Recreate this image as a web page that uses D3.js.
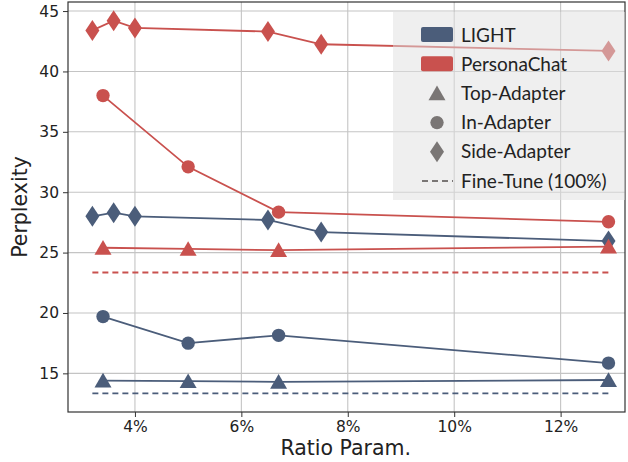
<!DOCTYPE html>
<html>
<head>
<meta charset="utf-8">
<script src="https://cdn.jsdelivr.net/npm/d3@7"></script>
<style>
  body { margin: 0; background: #fff; }
  svg { display: block; }
</style>
</head>
<body>
<svg id="chart"></svg>
<script>
// values
const lightTopX = [3.4, 5.0, 6.7, 12.9];
const lightTop = [14.4, 14.35, 14.3, 14.45];
const lightInX = [3.4, 5.0, 6.7, 12.9];
const lightIn = [19.7, 17.5, 18.15, 15.85];
const lightSideX = [3.2, 3.6, 4.0, 6.5, 7.5, 12.9];
const lightSide = [28.0, 28.3, 28.0, 27.7, 26.7, 25.95];
const lightFine = 13.35;

const personaTopX = [3.4, 5.0, 6.7, 12.9];
const personaTop = [25.4, 25.3, 25.2, 25.5];
const personaInX = [3.4, 5.0, 6.7, 12.9];
const personaIn = [38.0, 32.1, 28.35, 27.55];
const personaSideX = [3.2, 3.6, 4.0, 6.5, 7.5, 12.9];
const personaSide = [43.4, 44.2, 43.6, 43.3, 42.25, 41.7];
const personaFine = 23.35;

const fineRange = [3.2, 12.9];

const xTicks = [4, 6, 8, 10, 12];
const yTicks = [15, 20, 25, 30, 35, 40, 45];

const blue = "#4b5d7a";
const red = "#c9514e";
const gray = "#7a7675";

const width = 628, height = 462;
const margin = { top: 2, right: 3, bottom: 50, left: 68 };
const innerW = width - margin.left - margin.right;
const innerH = height - margin.top - margin.bottom;

const svg = d3.select("#chart").attr("width", width).attr("height", height);
const g = svg.append("g").attr("transform", `translate(${margin.left},${margin.top})`);

const x = d3.scaleLinear().domain([2.742, 13.21]).range([0, innerW]);
const y = d3.scaleLinear().domain([11.8, 45.75]).range([innerH, 0]);

// grid
g.selectAll(".gx").data(xTicks).enter().append("line")
  .attr("x1", d => x(d)).attr("x2", d => x(d))
  .attr("y1", 0).attr("y2", innerH)
  .attr("stroke", "#c4c4c4").attr("stroke-width", 1.1);
g.selectAll(".gy").data(yTicks).enter().append("line")
  .attr("y1", d => y(d)).attr("y2", d => y(d))
  .attr("x1", 0).attr("x2", innerW)
  .attr("stroke", "#c4c4c4").attr("stroke-width", 1.1);

// axes
const xAxis = g.append("g")
  .attr("transform", `translate(0,${innerH})`)
  .call(d3.axisBottom(x).tickValues(xTicks).tickFormat(d => d + "%").tickSize(5).tickPadding(4));
const yAxis = g.append("g")
  .call(d3.axisLeft(y).tickValues(yTicks).tickSize(5).tickPadding(4));
[xAxis, yAxis].forEach(a => {
  a.select(".domain").remove();
  a.selectAll("line").attr("stroke", "#333");
  a.selectAll("text").attr("font-family", "DejaVu Sans").attr("font-size", 15.5).attr("fill", "#222");
});

g.append("rect").attr("x", 0).attr("y", 0).attr("width", innerW).attr("height", innerH)
  .attr("fill", "none").attr("stroke", "#333").attr("stroke-width", 1.2);

// series
const line = d3.line().x(d => x(d[0])).y(d => y(d[1]));
const symTri = d3.symbol().type(d3.symbolTriangle).size(125);
const symCircle = d3.symbol().type(d3.symbolCircle).size(140);

function diamond(w, h) {
  return `M0,${-h / 2}L${w / 2},0L0,${h / 2}L${-w / 2},0Z`;
}

function drawSeries(xs, ys, color, marker) {
  const pts = xs.map((v, i) => [v, ys[i]]);
  g.append("path").attr("d", line(pts)).attr("fill", "none")
    .attr("stroke", color).attr("stroke-width", 1.8);
  g.selectAll(null).data(pts).enter().append("path")
    .attr("transform", d => `translate(${x(d[0])},${y(d[1]) + (marker === "tri" ? 2 : 0)})`)
    .attr("d", marker === "tri" ? symTri() : marker === "circle" ? symCircle() : diamond(14, 21))
    .attr("fill", color);
}

function drawFine(val, color) {
  g.append("line")
    .attr("x1", x(fineRange[0])).attr("x2", x(fineRange[1]))
    .attr("y1", y(val)).attr("y2", y(val))
    .attr("stroke", color).attr("stroke-width", 1.8).attr("stroke-dasharray", "6,4");
}

drawFine(lightFine, blue);
drawFine(personaFine, red);
drawSeries(lightTopX, lightTop, blue, "tri");
drawSeries(lightInX, lightIn, blue, "circle");
drawSeries(lightSideX, lightSide, blue, "diamond");
drawSeries(personaTopX, personaTop, red, "tri");
drawSeries(personaInX, personaIn, red, "circle");
drawSeries(personaSideX, personaSide, red, "diamond");

// legend
const lg = svg.append("g").attr("transform", "translate(393,12)");
lg.append("rect").attr("width", 232).attr("height", 188)
  .attr("fill", "#e0e0e0").attr("fill-opacity", 0.5);
const items = [
  { label: "LIGHT", kind: "patch", color: blue },
  { label: "PersonaChat", kind: "patch", color: red },
  { label: "Top-Adapter", kind: "tri", color: gray },
  { label: "In-Adapter", kind: "circle", color: gray },
  { label: "Side-Adapter", kind: "diamond", color: gray },
  { label: "Fine-Tune (100%)", kind: "dash", color: gray }
];
items.forEach((it, i) => {
  const cy = 23 + i * 29.2;
  const row = lg.append("g").attr("transform", `translate(0,${cy})`);
  if (it.kind === "patch") {
    row.append("rect").attr("x", 28).attr("y", -8).attr("width", 32).attr("height", 15)
      .attr("rx", 2).attr("fill", it.color);
  } else if (it.kind === "tri") {
    row.append("path").attr("transform", "translate(44,2)").attr("d", symTri()).attr("fill", it.color);
  } else if (it.kind === "circle") {
    row.append("path").attr("transform", "translate(44,0)").attr("d", symCircle()).attr("fill", it.color);
  } else if (it.kind === "diamond") {
    row.append("path").attr("transform", "translate(44,0)").attr("d", diamond(14, 21)).attr("fill", it.color);
  } else {
    row.append("line").attr("x1", 29).attr("x2", 60).attr("y1", 0).attr("y2", 0)
      .attr("stroke", it.color).attr("stroke-width", 1.8).attr("stroke-dasharray", "6,4");
  }
  row.append("text").attr("x", 68).attr("y", 6.5)
    .attr("font-family", "Lato").attr("font-size", 19).attr("fill", "#222")
    .text(it.label);
});

// axis titles
svg.append("text").attr("x", margin.left + x(8) - 2).attr("y", 455)
  .attr("text-anchor", "middle").attr("font-family", "DejaVu Sans").attr("font-size", 20.5)
  .attr("fill", "#222").text("Ratio Param.");
svg.append("text").attr("transform", `translate(27,${margin.top + innerH / 2}) rotate(-90)`)
  .attr("text-anchor", "middle").attr("font-family", "DejaVu Sans").attr("font-size", 20.5)
  .attr("fill", "#222").text("Perplexity");
</script>
</body>
</html>
